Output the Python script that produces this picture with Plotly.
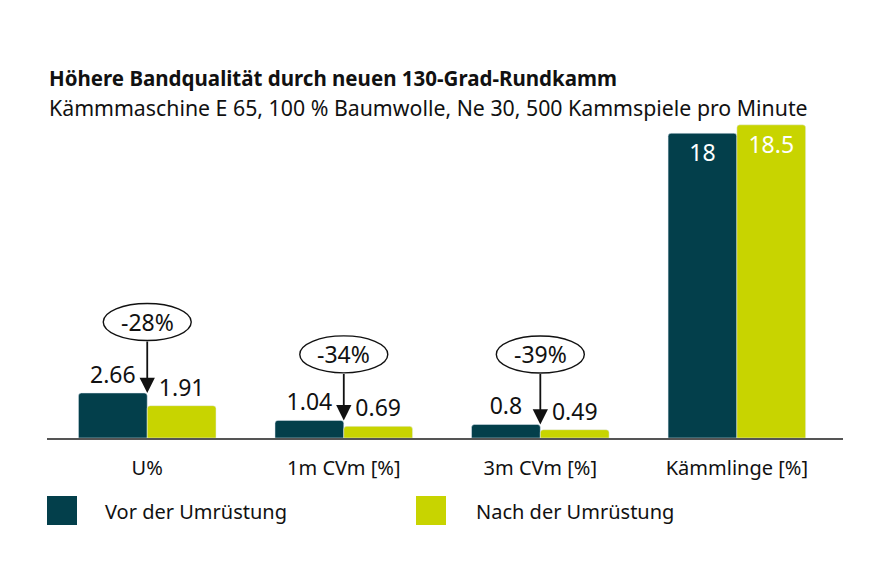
import plotly.graph_objects as go

categories = ["U%", "1m CVm [%]", "3m CVm [%]", "Kämmlinge [%]"]
series_names = ["Vor der Umrüstung", "Nach der Umrüstung"]
vor = [2.66, 1.04, 0.8, 18]
nach = [1.91, 0.69, 0.49, 18.5]
change_labels = ["-28%", "-34%", "-39%"]

title = "Höhere Bandqualität durch neuen 130-Grad-Rundkamm"
subtitle = "Kämmmaschine E 65, 100 % Baumwolle, Ne 30, 500 Kammspiele pro Minute"

DARK = "#033f4b"
LIME = "#c8d400"
FONT = "Noto Sans"

W, H = 890, 586
L, R, T, B = 47, 47, 110, 148
PW, PH = W - L - R, H - T - B


def px(x):
    return (x - L) / PW


def py(y):
    return (H - B - y) / PH


fig = go.Figure()
pos = ["outside"] * 3 + ["inside"]
for vals, name, col in [(vor, series_names[0], DARK), (nach, series_names[1], LIME)]:
    fig.add_trace(go.Bar(
        x=list(range(len(categories))), y=vals, name=name,
        marker=dict(color=col, cornerradius=3),
        text=[str(v) for v in vals], textposition=pos,
        textfont=dict(size=23, color=["#111"] * 3 + ["white"], family=FONT),
        insidetextanchor="end", cliponaxis=False, constraintext="none",
    ))

# change annotations: arrow to the top of the "vor" bar at category boundary
ell_offsets = [71, 66, 70]
shapes = []
annotations = []
for i, lab in enumerate(change_labels):
    off = ell_offsets[i]
    annotations.append(dict(
        x=i, y=vor[i], xref="x", yref="y", text=lab,
        showarrow=True, ax=0, ay=-off, axref="pixel", ayref="pixel",
        arrowhead=2, arrowsize=1.7, arrowwidth=1.8, arrowcolor="#111",
        font=dict(size=23, color="#111", family=FONT),
        borderpad=3, bordercolor="rgba(0,0,0,0)", borderwidth=1,
    ))
    shapes.append(dict(
        type="circle", xref="x", yref="y", xsizemode="pixel", ysizemode="pixel",
        xanchor=i, yanchor=vor[i], x0=-44, x1=44, y0=off - 18.5, y1=off + 18.5,
        line=dict(color="#111", width=1.4), fillcolor="rgba(0,0,0,0)",
    ))

# title and subtitle
annotations.append(dict(x=px(47), y=py(78), xref="paper", yref="paper", text="<b>" + title + "</b>",
                        showarrow=False, xanchor="left", yanchor="middle",
                        font=dict(size=20.5, color="#111", family=FONT)))
annotations.append(dict(x=px(47), y=py(107), xref="paper", yref="paper", text=subtitle,
                        showarrow=False, xanchor="left", yanchor="middle",
                        font=dict(size=21.3, color="#111", family=FONT)))

# legend
legend_items = [(47, 103, DARK, series_names[0]), (416, 474, LIME, series_names[1])]
for sx, tx, col, name in legend_items:
    shapes.append(dict(type="rect", xref="paper", yref="paper",
                       x0=px(sx), x1=px(sx + 30), y0=py(525), y1=py(496),
                       fillcolor=col, line=dict(width=0)))
    annotations.append(dict(x=px(tx), y=py(511), xref="paper", yref="paper", text=name,
                            showarrow=False, xanchor="left", yanchor="middle",
                            font=dict(size=20, color="#111", family=FONT)))

fig.update_layout(
    width=W, height=H, margin=dict(l=L, r=R, t=T, b=B),
    paper_bgcolor="white", plot_bgcolor="white",
    barmode="group", bargap=0.30, bargroupgap=0,
    showlegend=False, shapes=shapes, annotations=annotations,
    font=dict(family=FONT, color="#111"),
    xaxis=dict(range=[-0.51, 3.54], tickmode="array", tickvals=list(range(len(categories))),
               ticktext=categories, showline=True, linecolor="#555", linewidth=1.5,
               ticks="outside", ticklen=11, tickcolor="rgba(0,0,0,0)",
               tickfont=dict(size=20, color="#111", family=FONT), showgrid=False, zeroline=False),
    yaxis=dict(range=[0, PH / 16.93], visible=False, showgrid=False, zeroline=False),
)

fig.write_html("out.html")
